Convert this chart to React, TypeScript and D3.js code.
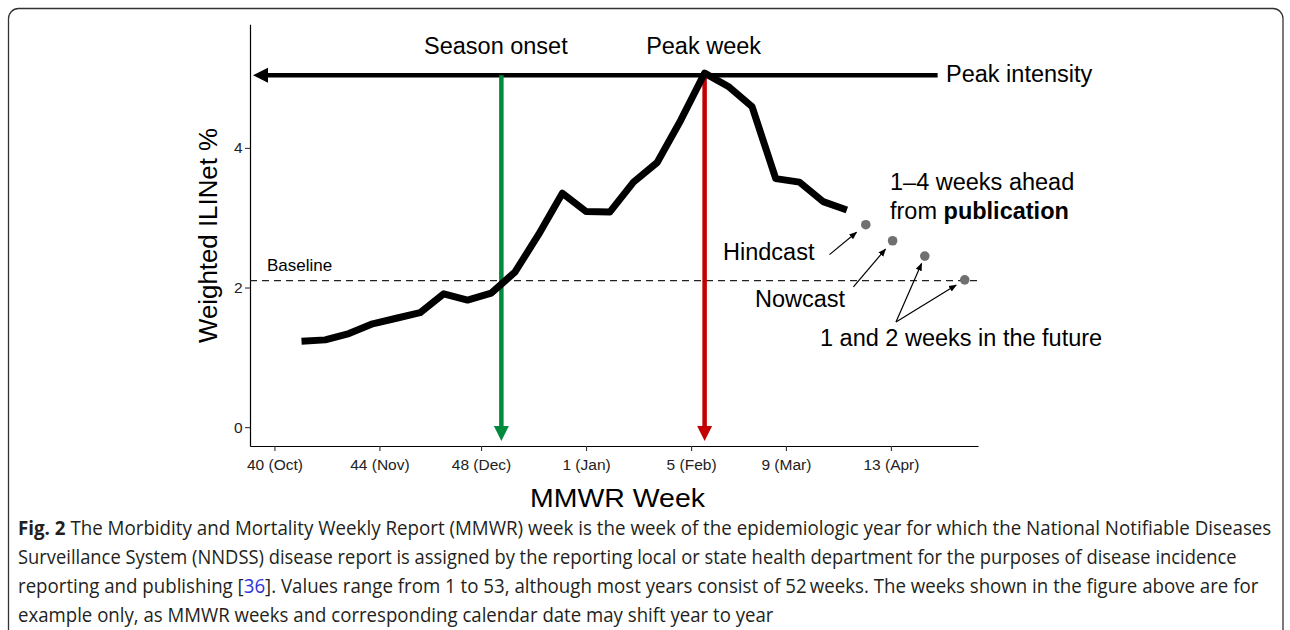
import React, { useEffect, useRef } from 'react';
import * as d3 from 'd3';

const parseDay = d3.timeParse('%Y-%m-%d');
const parseHour = d3.timeParse('%Y-%m-%d %H');

// weekly surveillance values (Weighted ILINet %)
const weekDates = [
  '2018-10-09', '2018-10-16', '2018-10-23', '2018-10-30', '2018-11-06', '2018-11-13',
  '2018-11-20', '2018-11-27', '2018-12-04', '2018-12-11', '2018-12-18', '2018-12-25',
  '2019-01-01', '2019-01-08', '2019-01-15', '2019-01-22', '2019-01-29', '2019-02-05',
  '2019-02-12', '2019-02-19', '2019-02-26', '2019-03-05', '2019-03-12', '2019-03-19',
];
const iliValues = [
  1.23, 1.25, 1.34, 1.48, 1.56, 1.64,
  1.91, 1.82, 1.92, 2.22, 2.76, 3.35,
  3.09, 3.08, 3.51, 3.79, 4.40, 5.07,
  4.88, 4.59, 3.56, 3.51, 3.23, 3.11,
];

// forecast targets (hindcast, nowcast, 1 and 2 weeks ahead)
const forecastDates = ['2019-03-24 14', '2019-04-01 12', '2019-04-11 00', '2019-04-22 19'];
const forecastValues = [2.9, 2.67, 2.45, 2.11];

const tickDates = ['2018-10-01', '2018-11-01', '2018-12-01', '2019-01-01', '2019-02-01', '2019-03-01', '2019-04-01'];
const tickLabels = ['40 (Oct)', '44 (Nov)', '48 (Dec)', '1 (Jan)', '5 (Feb)', '9 (Mar)', '13 (Apr)'];
const yTicks = [0, 2, 4];

const baselineValue = 2.1;
const peakIntensity = 5.04;
const onsetDate = '2018-12-07';
const peakDate = '2019-02-05';
const peakLineEnd = '2019-04-14 19';
const arrowTipValue = -0.2;

const captionLines = [
  [{ t: 'Fig. 2', b: true }, { t: ' The Morbidity and Mortality Weekly Report (MMWR) week is the week of the epidemiologic year for which the National Notifiable Diseases' }],
  [{ t: 'Surveillance System (NNDSS) disease report is assigned by the reporting local or state health department for the purposes of disease incidence' }],
  [{ t: 'reporting and publishing [' }, { t: '36', c: '#2b36d9' }, { t: ']. Values range from 1 to 53, although most years consist of 52\u2009weeks. The weeks shown in the figure above are for' }],
  [{ t: 'example only, as MMWR weeks and corresponding calendar date may shift year to year' }],
];
const captionWidths = [1254, 1219, 1241, 756];

export default function App() {
  const ref = useRef<SVGSVGElement>(null);

  useEffect(() => {
    const width = 1290;
    const height = 630;
    const svg = d3.select(ref.current);
    svg.selectAll('*').remove();
    svg.attr('width', width).attr('height', height);

    const font = '"Liberation Sans", Arial, Helvetica, sans-serif';

    svg.append('rect')
      .attr('x', 8.5).attr('y', 8.5)
      .attr('width', 1274.5).attr('height', 660)
      .attr('rx', 10)
      .attr('fill', 'none')
      .attr('stroke', '#333')
      .attr('stroke-width', 1.3);

    const x = d3.scaleTime()
      .domain([parseHour('2018-09-23 19')!, parseHour('2019-04-26 17')!])
      .range([250, 978]);
    const y = d3.scaleLinear().domain([-0.27, 5.77]).range([446, 24.3]);

    const data = weekDates.map((d, i) => ({ date: parseDay(d)!, value: iliValues[i] }));
    const forecasts = forecastDates.map((d, i) => ({ date: parseHour(d)!, value: forecastValues[i] }));

    // axes
    const xAxis = d3.axisBottom(x)
      .tickValues(tickDates.map(d => parseDay(d)!))
      .tickFormat((_d, i) => tickLabels[i])
      .tickSize(5)
      .tickSizeOuter(0)
      .tickPadding(8);
    const gx = svg.append('g').attr('transform', `translate(0,${y.range()[0]})`).call(xAxis as any);
    gx.select('.domain').attr('stroke', '#000').attr('stroke-width', 1.2);
    gx.selectAll('.tick line').attr('stroke', '#333').attr('stroke-width', 1.1);
    gx.selectAll('.tick text').attr('font-family', font).attr('font-size', 15.5).attr('fill', '#222');

    const yAxis = d3.axisLeft(y).tickValues(yTicks).tickFormat(d3.format('d')).tickSize(5).tickSizeOuter(0).tickPadding(2.5);
    const gy = svg.append('g').attr('transform', `translate(${x.range()[0]},0)`).call(yAxis as any);
    gy.select('.domain').attr('stroke', '#000').attr('stroke-width', 1.2);
    gy.selectAll('.tick line').attr('stroke', '#333').attr('stroke-width', 1.1);
    gy.selectAll('.tick text').attr('font-family', font).attr('font-size', 15.5).attr('fill', '#222');

    svg.append('text')
      .attr('transform', 'translate(217,235.5) rotate(-90)')
      .attr('text-anchor', 'middle')
      .attr('font-family', font).attr('font-size', 25)
      .attr('textLength', 215).attr('lengthAdjust', 'spacingAndGlyphs')
      .text('Weighted ILINet %');

    svg.append('text')
      .attr('x', 617.5).attr('y', 507)
      .attr('text-anchor', 'middle')
      .attr('font-family', font).attr('font-size', 25)
      .attr('textLength', 175).attr('lengthAdjust', 'spacingAndGlyphs')
      .text('MMWR Week');

    // baseline
    svg.append('line')
      .attr('x1', x.range()[0]).attr('x2', x.range()[1])
      .attr('y1', y(baselineValue)).attr('y2', y(baselineValue))
      .attr('stroke', '#222').attr('stroke-width', 1.2)
      .attr('stroke-dasharray', '7,5');
    svg.append('text')
      .attr('x', 267).attr('y', y(baselineValue) - 9.5)
      .attr('font-family', font).attr('font-size', 17)
      .text('Baseline');

    // peak intensity arrow
    const yp = y(peakIntensity);
    const xl = x.range()[0] + 3;
    svg.append('line')
      .attr('x1', xl + 10).attr('x2', x(parseHour(peakLineEnd)!))
      .attr('y1', yp).attr('y2', yp)
      .attr('stroke', '#000').attr('stroke-width', 4.5);
    svg.append('path')
      .attr('d', `M${xl},${yp}L${xl + 15},${yp - 7.5}L${xl + 15},${yp + 7.5}Z`)
      .attr('fill', '#000');

    // onset and peak arrows
    const vArrow = (date: Date, color: string) => {
      const xv = x(date);
      const tip = y(arrowTipValue);
      svg.append('line')
        .attr('x1', xv).attr('x2', xv)
        .attr('y1', yp).attr('y2', tip - 10)
        .attr('stroke', color).attr('stroke-width', 4.5);
      svg.append('path')
        .attr('d', `M${xv},${tip}L${xv - 7.5},${tip - 15}L${xv + 7.5},${tip - 15}Z`)
        .attr('fill', color);
    };
    vArrow(parseDay(onsetDate)!, '#008a3e');
    vArrow(parseDay(peakDate)!, '#c40000');

    // ILI curve
    const line = d3.line<{ date: Date; value: number }>()
      .x(d => x(d.date))
      .y(d => y(d.value));
    svg.append('path')
      .datum(data)
      .attr('d', line)
      .attr('fill', 'none')
      .attr('stroke', '#000')
      .attr('stroke-width', 7)
      .attr('stroke-linejoin', 'round')
      .attr('stroke-linecap', 'butt');

    // forecast points
    svg.selectAll('circle.fc')
      .data(forecasts)
      .enter()
      .append('circle')
      .attr('class', 'fc')
      .attr('cx', d => x(d.date))
      .attr('cy', d => y(d.value))
      .attr('r', 4.8)
      .attr('fill', '#707070');

    // thin annotation arrows
    const defs = svg.append('defs');
    defs.append('marker')
      .attr('id', 'head')
      .attr('viewBox', '0 0 10 10')
      .attr('refX', 9).attr('refY', 5)
      .attr('markerWidth', 8).attr('markerHeight', 8)
      .attr('markerUnits', 'userSpaceOnUse')
      .attr('orient', 'auto')
      .append('path')
      .attr('d', 'M0,1L10,5L0,9Z')
      .attr('fill', '#000');

    const arrowTo = (sx: number, sy: number, target: { date: Date; value: number }, gap: number) => {
      const tx = x(target.date);
      const ty = y(target.value);
      const dx = tx - sx;
      const dy = ty - sy;
      const len = Math.hypot(dx, dy);
      svg.append('line')
        .attr('x1', sx).attr('y1', sy)
        .attr('x2', tx - (dx / len) * gap).attr('y2', ty - (dy / len) * gap)
        .attr('stroke', '#000').attr('stroke-width', 1.2)
        .attr('marker-end', 'url(#head)');
    };
    arrowTo(829.5, 254.6, forecasts[0], 12);
    arrowTo(853.4, 286.8, forecasts[1], 11);
    arrowTo(896, 322, forecasts[2], 8);
    arrowTo(896, 322, forecasts[3], 10);

    // annotation text
    const label = (tx: number, ty: number, anchor: string) =>
      svg.append('text')
        .attr('x', tx).attr('y', ty)
        .attr('text-anchor', anchor)
        .attr('font-family', font).attr('font-size', 23.5)
        .attr('fill', '#000');

    label(x(parseDay(onsetDate)!) - 5.5, 54, 'middle').text('Season onset');
    label(x(parseDay(peakDate)!) - 1, 54, 'middle').text('Peak week');
    label(946, 82, 'start').text('Peak intensity');
    label(890, 190, 'start').text('1\u20134 weeks ahead');
    const pub = label(890, 218.5, 'start');
    pub.append('tspan').text('from ');
    pub.append('tspan').attr('font-weight', 'bold').text('publication');
    label(723, 259.5, 'start').text('Hindcast');
    label(755, 307, 'start').text('Nowcast');
    label(820, 346, 'start').text('1 and 2 weeks in the future');

    // caption: narrow the text horizontally so each line fits its width
    captionLines.forEach((parts, i) => {
      const g = svg.append('g');
      const t = g.append('text')
        .attr('x', 0).attr('y', 0)
        .attr('font-family', '"Open Sans", "Noto Sans", sans-serif')
        .attr('font-size', 20)
        .attr('fill', '#231f20');
      parts.forEach((p: any) => {
        const s = t.append('tspan').text(p.t);
        if (p.b) s.attr('font-weight', 'bold');
        if (p.c) s.attr('fill', p.c);
      });
      const natural = (t.node() as SVGTextElement).getComputedTextLength();
      const k = natural > 0 ? captionWidths[i] / natural : 1;
      g.attr('transform', `translate(18,${535 + i * 29}) scale(${k},1)`);
    });
  }, []);

  return <svg ref={ref} style={{ position: 'absolute', left: 0, top: 0, display: 'block' }} />;
}
